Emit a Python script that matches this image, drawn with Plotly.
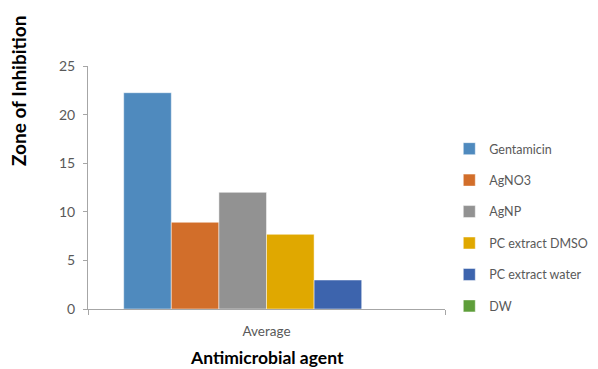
import plotly.graph_objects as go

# Zone of inhibition (mm) for each antimicrobial agent, averaged
categories = ["Average"]
agents = ["Gentamicin", "AgNO3", "AgNP", "PC extract DMSO", "PC extract water", "DW"]
values = [22.25, 8.92, 12.0, 7.68, 2.98, 0.0]
colors = ["#4F8ABE", "#D26E2A", "#929292", "#E0A800", "#3D64AD", "#5E9E3A"]
y_ticks = [0, 5, 10, 15, 20, 25]

FONT = "Lato"
TEXT_GREY = "#595959"
AXIS_GREY = "#A6A6A6"

fig = go.Figure()
for name, val, col in zip(agents, values, colors):
    fig.add_trace(go.Bar(
        x=categories,
        y=[val],
        name=name,
        legendgroup=name,
        marker=dict(color=col, line=dict(color="rgba(255,255,255,0.6)", width=0.8)),
    ))

fig.update_layout(
    width=598,
    height=369,
    margin=dict(l=88, r=153, t=66, b=60, autoexpand=False),
    paper_bgcolor="white",
    plot_bgcolor="white",
    barmode="group",
    bargap=0.2,
    bargroupgap=0,
    font=dict(family=FONT, size=12, color=TEXT_GREY),
    showlegend=True,
    legend=dict(
        x=1.012,
        xanchor="left",
        y=0.72,
        yanchor="top",
        tracegroupgap=12.2,
        font=dict(family=FONT, size=12.5, color=TEXT_GREY),
        bgcolor="rgba(0,0,0,0)",
    ),
    xaxis=dict(
        type="category",
        showline=True,
        linecolor=AXIS_GREY,
        linewidth=1,
        ticks="outside",
        tickson="boundaries",
        ticklen=5,
        tickcolor=AXIS_GREY,
        ticklabelstandoff=10,
        showgrid=False,
        automargin=False,
        tickfont=dict(family=FONT, size=13.5, color=TEXT_GREY),
    ),
    yaxis=dict(
        range=[0, 25],
        tickvals=y_ticks,
        showline=True,
        linecolor=AXIS_GREY,
        linewidth=1,
        ticks="outside",
        ticklen=4,
        tickcolor=AXIS_GREY,
        ticklabelstandoff=5,
        showgrid=False,
        zeroline=False,
        automargin=False,
        tickfont=dict(family=FONT, size=14, color=TEXT_GREY),
    ),
    annotations=[
        dict(
            text="<b>Zone of Inhibition</b>",
            textangle=-90,
            xref="paper", yref="paper",
            x=-0.196, y=0.897,
            xanchor="center", yanchor="middle",
            showarrow=False,
            font=dict(family=FONT, size=19, color="black"),
        ),
        dict(
            text="<b>Antimicrobial agent</b>",
            xref="paper", yref="paper",
            x=0.5, y=-0.2,
            xanchor="center", yanchor="middle",
            showarrow=False,
            font=dict(family=FONT, size=17.5, color="black"),
        ),
    ],
)

fig.write_html("out.html")
